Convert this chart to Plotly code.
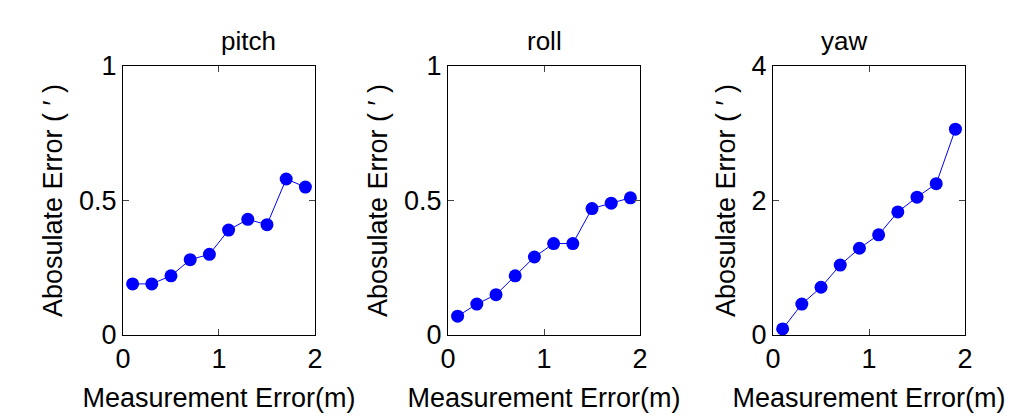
import plotly.graph_objects as go
from plotly.subplots import make_subplots

x = [0.1, 0.3, 0.5, 0.7, 0.9, 1.1, 1.3, 1.5, 1.7, 1.9]
pitch = [0.19, 0.19, 0.22, 0.28, 0.30, 0.39, 0.43, 0.41, 0.58, 0.55]
roll = [0.07, 0.115, 0.15, 0.22, 0.29, 0.34, 0.34, 0.47, 0.49, 0.51]
yaw = [0.09, 0.46, 0.71, 1.04, 1.29, 1.49, 1.83, 2.05, 2.25, 3.06]
titles = ["pitch", "roll", "yaw"]
yranges = [[0, 1], [0, 1], [0, 4]]
yticks = [[0, 0.5, 1], [0, 0.5, 1], [0, 2, 4]]

fig = make_subplots(rows=1, cols=3, horizontal_spacing=0.13)
font = dict(family="Liberation Sans, Arial", size=27, color="black")
for i, ys in enumerate([pitch, roll, yaw]):
    fig.add_trace(go.Scatter(x=x, y=ys, mode="lines+markers",
                             line=dict(color="blue", width=1),
                             marker=dict(color="blue", size=13)), row=1, col=i+1)
    fig.update_xaxes(range=[0, 2], tickvals=[0, 1, 2], ticks="inside", ticklen=6,
                     showline=True, linecolor="black", mirror="ticks", showgrid=False,
                     zeroline=False, tickfont=font, automargin=False,
                     title=dict(text="Measurement Error(m)", font=font, standoff=14),
                     row=1, col=i+1)
    fig.update_yaxes(range=yranges[i], tickvals=yticks[i], ticks="inside", ticklen=6,
                     showline=True, linecolor="black", mirror="ticks", showgrid=False,
                     zeroline=False, tickfont=font, automargin=False,
                     title=dict(text="Abosulate Error ( ′ )", font=font, standoff=8),
                     row=1, col=i+1)

doms = [[0.1123, 0.2998], [0.4297, 0.6172], [0.7471, 0.9346]]
for i, d in enumerate(doms):
    fig.layout["xaxis" + ("" if i == 0 else str(i+1))].domain = d
    fig.add_annotation(text=titles[i], x=(d[0]+d[1])/2, xref="paper", y=1.0, yref="paper",
                       yanchor="bottom", yshift=8, showarrow=False,
                       font=dict(family="Liberation Sans, Arial", size=26, color="black"))

fig.update_layout(width=1024, height=419, showlegend=False,
                  paper_bgcolor="white", plot_bgcolor="white",
                  margin=dict(l=0, r=0, t=58, b=92, autoexpand=False))
fig.write_html("out.html")
